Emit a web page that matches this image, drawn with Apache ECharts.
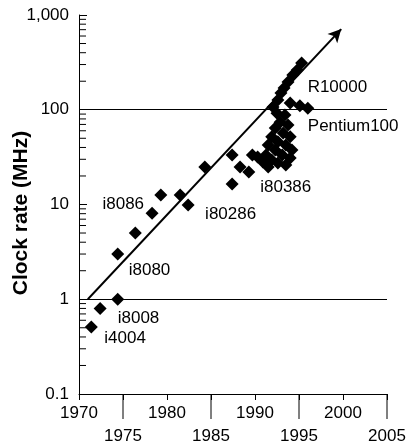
<!DOCTYPE html>
<html><head><meta charset="utf-8">
<script src="https://cdn.jsdelivr.net/npm/echarts@6/dist/echarts.min.js"></script>
<style>html,body{margin:0;padding:0;background:#fff}#c{width:409px;height:445px}</style>
</head><body><div id="c"></div>
<script>
// ---- data ----
const years = [1971.4, 1972.4, 1974.4, 1974.4, 1976.4, 1978.3, 1979.3, 1981.5, 1982.4, 1984.3,
  1987.4, 1987.4, 1988.3, 1989.3, 1989.7, 1990.3, 1990.9, 1991.25, 1991.5, 1991.5, 1991.9, 1991.9,
  1992.05, 1992.3, 1992.3, 1992.5, 1992.6, 1992.6, 1992.6, 1992.85, 1992.95, 1993.1, 1993.2,
  1993.3, 1993.4, 1993.5, 1993.5, 1993.75, 1993.75, 1994.0, 1994.0, 1994.0, 1994.2, 1994.3,
  1994.8, 1995.1, 1995.3, 1996.0];
const clockMHz = [0.51, 0.8, 1.0, 3.0, 5.0, 8.1, 12.6, 12.6, 9.9, 24.9,
  33.3, 16.5, 24.9, 22.0, 33.3, 31.7, 28.1, 33.3, 42.5, 24.9, 52, 29.5,
  107, 64, 37.6, 92, 46, 27.4, 127, 74, 150, 33.3, 57,
  170, 88, 42.5, 26.1, 196, 69, 52, 118, 31, 37.6, 233,
  263, 110, 311, 104];
const chipNames = ['i4004', '', 'i8008', 'i8080', '', 'i8086', '', '', 'i80286', '',
  '', '', '', '', '', '', '', '', '', 'i80386', '', '',
  '', '', '', '', '', '', '', '', '', '', '',
  '', '', '', '', '', '', '', '', '', '', '',
  '', '', 'R10000', 'Pentium100'];
const trendYears = [1971.0, 1999.8];
const trendMHz = [1.0, 710];
const refLinesMHz = [1, 100];
const xLabelsUpper = [1970, 1980, 1990, 2000];
const xLabelsLower = [1975, 1985, 1995, 2005];
const yTickValues = [0.1, 1, 10, 100, 1000];
const yAxisTitle = 'Clock rate (MHz)';

// ---- styles ----
const FONT = '"Liberation Sans", Arial, sans-serif';
const labelStyle = {
  'i4004':      { offset: [13, 11], align: 'left' },
  'i8008':      { offset: [0, 19], align: 'left' },
  'i8080':      { offset: [11, 16], align: 'left' },
  'i8086':      { offset: [-8, -9], align: 'right' },
  'i80286':     { offset: [17, 9], align: 'left' },
  'i80386':     { offset: [-8, 20], align: 'left' },
  'R10000':     { offset: [6, 24], align: 'left' },
  'Pentium100': { offset: [0, 18], align: 'left' }
};

const points = years.map((yr, i) => {
  const d = { value: [yr, clockMHz[i]], name: chipNames[i] };
  const ls = labelStyle[chipNames[i]];
  if (ls) {
    d.label = {
      show: true, formatter: chipNames[i], position: 'inside',
      offset: ls.offset, align: ls.align, verticalAlign: 'middle',
      color: '#000', fontSize: 17, fontFamily: FONT
    };
  }
  return d;
});

// minor log ticks (2..9 in each decade)
const minorTickValues = [];
for (let e = -1; e < 3; e++) for (let k = 2; k <= 9; k++) minorTickValues.push(+(k * Math.pow(10, e)).toPrecision(3));

const chart = echarts.init(document.getElementById('c'), null, { renderer: 'canvas' });
chart.setOption({
  animation: false,
  backgroundColor: '#fff',
  grid: { left: 79, right: 22, top: 15, bottom: 51, containLabel: false, outerBoundsMode: 'none' },
  graphic: [{
    type: 'text', x: 21, y: 213, rotation: Math.PI / 2, silent: true,
    style: { text: yAxisTitle, fill: '#000', font: 'bold 21px ' + FONT, textAlign: 'center', textVerticalAlign: 'middle' }
  }],
  xAxis: {
    type: 'value', min: 1970, max: 2005, interval: 5,
    axisLine: { show: true, onZero: false, lineStyle: { color: '#000', width: 1 } },
    axisTick: { show: true, length: 6, lineStyle: { color: '#000' } },
    axisLabel: {
      margin: 11, color: '#000', fontSize: 17, fontFamily: FONT, showMinLabel: true, showMaxLabel: true,
      hideOverlap: false,
      formatter: v => (xLabelsLower.indexOf(v) >= 0 ? '{low|' + v + '}' : String(v)),
      rich: { low: { padding: [23, 0, 0, 0], fontSize: 17, fontFamily: FONT, color: '#000' } }
    },
    splitLine: { show: false }
  },
  yAxis: {
    type: 'log', logBase: 10, min: 0.1, max: 1000,
    axisLine: { show: true, onZero: false, lineStyle: { color: '#000', width: 1 } },
    axisTick: { show: true, inside: true, length: 8, lineStyle: { color: '#000' } },
    axisLabel: {
      margin: 10, color: '#000', fontSize: 17, fontFamily: FONT,
      formatter: v => (v >= 1000 ? Number(v).toLocaleString('en-US') : String(+Number(v).toPrecision(3)))
    },
    splitLine: { show: false }
  },
  series: [{
    type: 'scatter',
    symbol: 'diamond', symbolSize: 13,
    itemStyle: { color: '#000', opacity: 1 },
    data: points,
    z: 3,
    markLine: {
      silent: true, animation: false, precision: 4,
      symbol: ['none', 'none'],
      label: { show: false },
      lineStyle: { color: '#000', width: 1, type: 'solid' },
      data: [
        ...refLinesMHz.map(v => ({ yAxis: v })),
        [
          { coord: [trendYears[0], trendMHz[0]], symbol: 'none', lineStyle: { color: '#000', width: 2, type: 'solid' } },
          { coord: [trendYears[1], trendMHz[1]], symbol: 'arrow', symbolSize: [10, 13] }
        ]
      ]
    }
  }, {
    // long ticks under the lower row of year labels
    type: 'custom', clip: false, silent: true, z: 1,
    data: xLabelsLower,
    renderItem: (params, api) => {
      const p = api.coord([api.value(0), 0.1]);
      return { type: 'line', shape: { x1: p[0], y1: p[1], x2: p[0], y2: p[1] + 25 }, style: { stroke: '#000', lineWidth: 1 } };
    },
    encode: { x: 0 }
  }, {
    // minor log ticks inside the y axis
    type: 'custom', clip: false, silent: true, z: 1,
    data: minorTickValues.map(v => [1970, v]),
    renderItem: (params, api) => {
      const p = api.coord([api.value(0), api.value(1)]);
      return { type: 'line', shape: { x1: p[0], y1: p[1], x2: p[0] + 7, y2: p[1] }, style: { stroke: '#000', lineWidth: 1 } };
    },
    encode: { x: 0, y: 1 }
  }]
});
</script></body></html>
